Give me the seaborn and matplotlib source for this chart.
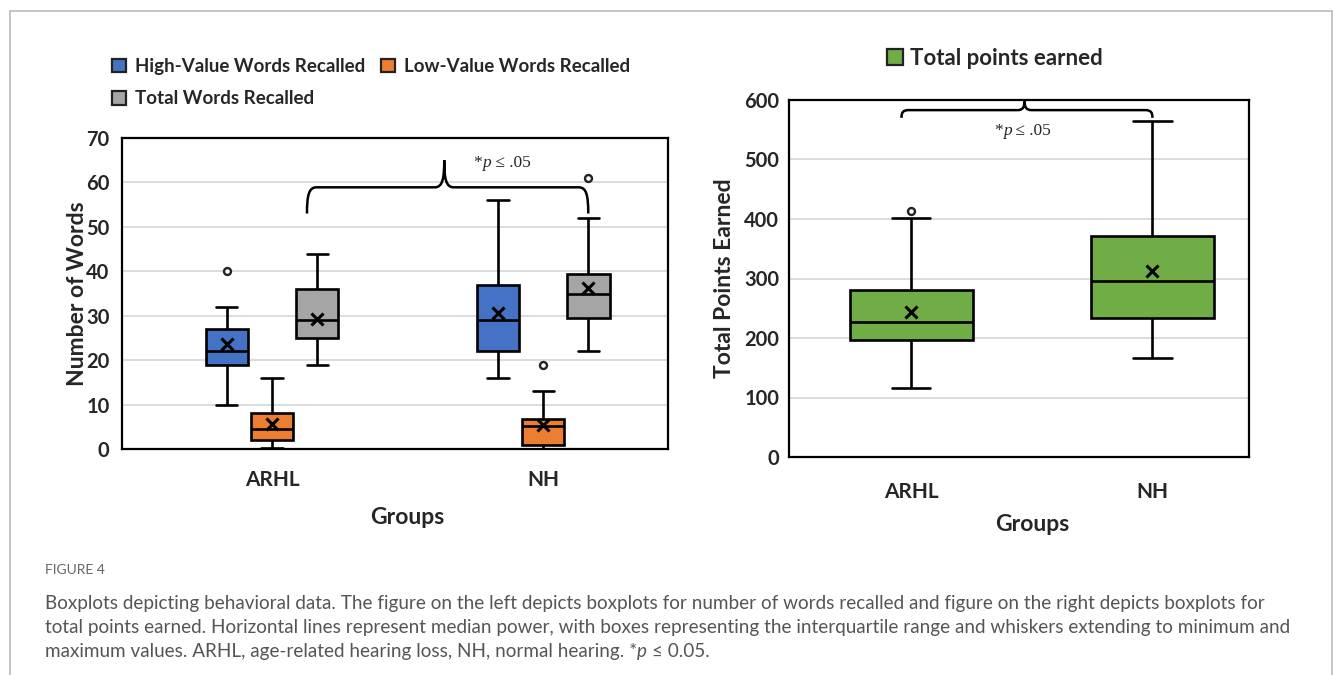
import numpy as np
import pandas as pd
import matplotlib
matplotlib.use("Agg")
import matplotlib.pyplot as plt
from matplotlib.patches import Patch, PathPatch
from matplotlib.path import Path
import seaborn as sns

# ---------------- data ----------------
groups = ["ARHL", "NH"]
measures = ["High-Value Words Recalled", "Low-Value Words Recalled", "Total Words Recalled"]

# five-number summaries [min, q1, median, q3, max] per group (ARHL, NH)
high_value_five = [[10, 19, 22, 27, 32], [16, 22, 29, 37, 56]]
low_value_five = [[0.3, 2, 4.5, 8, 16], [0, 0.8, 5.2, 6.8, 13]]
total_words_five = [[19, 25, 29, 36, 44], [22, 29.5, 35, 39.5, 52]]
high_value_mean = [23.7, 30.7]
low_value_mean = [5.6, 5.4]
total_words_mean = [29.2, 36.2]
high_value_outliers = [[40], []]
low_value_outliers = [[], [19]]
total_words_outliers = [[], [61]]

points_five = [[116, 196, 227, 280, 402], [167, 233, 295, 371, 564]]
points_mean = [243, 312]
points_outliers = [[413], []]

word_ticks = [0, 10, 20, 30, 40, 50, 60, 70]
point_ticks = [0, 100, 200, 300, 400, 500, 600]

colors = {"High-Value Words Recalled": "#4472C4",
          "Low-Value Words Recalled": "#ED7D31",
          "Total Words Recalled": "#A5A5A5"}
green = "#70AD47"

caption_title = "FIGURE 4"
caption_lines = [
    "Boxplots depicting behavioral data. The figure on the left depicts boxplots for number of words recalled and figure on the right depicts boxplots for",
    "total points earned. Horizontal lines represent median power, with boxes representing the interquartile range and whiskers extending to minimum and",
]
caption_last = ["maximum values. ARHL, age-related hearing loss, NH, normal hearing. *", "p", " \u2264 0.05."]

# ---------------- tables ----------------
series_five = [high_value_five, low_value_five, total_words_five]
series_mean = [high_value_mean, low_value_mean, total_words_mean]
series_out = [high_value_outliers, low_value_outliers, total_words_outliers]

rows = []
for gi, g in enumerate(groups):
    for m, five in zip(measures, series_five):
        for v in five[gi]:
            rows.append({"Group": g, "Measure": m, "Words": v})
words_df = pd.DataFrame(rows)

prow = []
for gi, g in enumerate(groups):
    for v in points_five[gi]:
        prow.append({"Group": g, "Points": v})
points_df = pd.DataFrame(prow)

# ---------------- style ----------------
sns.set_theme(style="white")
BOLD = ["Lato", "DejaVu Sans"]
plt.rcParams["font.family"] = BOLD

fig = plt.figure(figsize=(13.33, 6.75), dpi=100)
W, H = 1333, 675

def axes_px(l, r, t, b):
    return fig.add_axes([l / W, 1 - b / H, (r - l) / W, (b - t) / H])

ax1 = axes_px(122, 668, 138, 449)
ax2 = axes_px(789, 1249, 100, 457)

LW = 1.9
box_width = 0.5
sns.boxplot(data=words_df, x="Group", y="Words", hue="Measure", order=groups,
            hue_order=measures, palette=colors, saturation=1, width=box_width,
            gap=0.06, whis=(0, 100), showfliers=False, linecolor="black",
            linewidth=LW, legend=False, ax=ax1)

sns.boxplot(data=points_df, x="Group", y="Points", order=groups, color=green,
            saturation=1, width=0.51, whis=(0, 100), showfliers=False,
            linecolor="black", linewidth=LW, capwidths=0.16, ax=ax2)

# means and outliers
n_h = len(measures)
slot = box_width / n_h
for hi in range(n_h):
    for gi in range(len(groups)):
        xpos = gi + (hi - (n_h - 1) / 2) * slot
        ax1.plot([xpos], [series_mean[hi][gi]], marker="x", color="black",
                 ms=8.5, mew=2.2, zorder=5)
        for o in series_out[hi][gi]:
            ax1.plot([xpos], [o], marker="o", ms=5, mfc="white", mec="#222222",
                     mew=1.7, zorder=5)
for gi in range(len(groups)):
    ax2.plot([gi], [points_mean[gi]], marker="x", color="black", ms=9, mew=2.2, zorder=5)
    for o in points_outliers[gi]:
        ax2.plot([gi], [o], marker="o", ms=5, mfc="white", mec="#222222", mew=1.7, zorder=5)

# axes styling
for ax, ticks, lim in [(ax1, word_ticks, (-0.553, 1.46)), (ax2, point_ticks, (-0.506, 1.40))]:
    ax.set_ylim(ticks[0], ticks[-1])
    ax.set_yticks(ticks)
    ax.set_xlim(*lim)
    ax.yaxis.grid(True, color="#d9d9d9", lw=1.3)
    ax.set_axisbelow(True)
    for s in ax.spines.values():
        s.set_visible(True)
        s.set_color("black")
        s.set_linewidth(1.6)
    ax.tick_params(axis="both", length=0, labelsize=14.5)
    for lab in ax.get_xticklabels() + ax.get_yticklabels():
        lab.set_fontweight("bold")
    ax.set_xticks(range(len(groups)))
    ax.set_xticklabels(groups, fontweight="bold", fontsize=15)

ax1.tick_params(axis="y", pad=9)
ax1.tick_params(axis="x", pad=15)
ax2.tick_params(axis="y", pad=7)
ax2.tick_params(axis="x", pad=18)

ax1.set_ylabel("Number of Words", fontsize=16.5, fontweight="bold")
ax1.yaxis.set_label_coords(-0.081, 0.5)
ax1.set_xlabel("Groups", fontsize=16.5, fontweight="bold")
ax1.xaxis.set_label_coords(0.522, -0.219)
ax1.xaxis.label.set_va("center")
ax1.yaxis.label.set_va("center")

ax2.set_ylabel("Total Points Earned", fontsize=16.5, fontweight="bold")
ax2.yaxis.set_label_coords(-0.141, 0.5)
ax2.set_xlabel("Groups", fontsize=16.5, fontweight="bold")
ax2.xaxis.set_label_coords(0.528, -0.188)
ax2.xaxis.label.set_va("center")
ax2.yaxis.label.set_va("center")

# curly brackets
def brace(ax, x0, x1, xm, yh, yend, ytip, dx, lw=1.8):
    dyE = (yh - yend)
    dyT = (ytip - yh)
    verts = [
        (x0, yend), (x0, yend + dyE * 0.7), (x0 + dx * 0.2, yh), (x0 + dx, yh),
        (xm - dx, yh),
        (xm - dx * 0.2, yh), (xm, yh + dyT * 0.3), (xm, ytip),
        (xm, yh + dyT * 0.3), (xm + dx * 0.2, yh), (xm + dx, yh),
        (x1 - dx, yh),
        (x1 - dx * 0.2, yh), (x1, yh - dyE * 0.3), (x1, yend),
    ]
    codes = [Path.MOVETO, Path.CURVE4, Path.CURVE4, Path.CURVE4,
             Path.LINETO,
             Path.CURVE4, Path.CURVE4, Path.CURVE4,
             Path.CURVE4, Path.CURVE4, Path.CURVE4,
             Path.LINETO,
             Path.CURVE4, Path.CURVE4, Path.CURVE4]
    ax.add_patch(PathPatch(Path(verts, codes), fill=False, lw=lw, color="black",
                           clip_on=False, zorder=6, capstyle="butt"))

brace(ax1, 0.129, 1.166, 0.635, 58.9, 53, 65, 0.035)
brace(ax2, -0.04, 1.0, 0.47, 583, 570, 600, 0.03)

SERIF = ["Liberation Serif", "DejaVu Serif"]

def chain_text(ax, x, y, pieces, transform, **kw):
    prev = None
    for txt, style in pieces:
        if prev is None:
            prev = ax.annotate(txt, xy=(x, y), xycoords=transform,
                               ha="left", va="bottom", style=style,
                               annotation_clip=False, **kw)
        else:
            prev = ax.annotate(txt, xy=(1, 0), xycoords=prev,
                               ha="left", va="bottom", style=style,
                               annotation_clip=False, **kw)
    return prev

chain_text(ax1, 0.743, 62.6, [("*", "normal"), ("p", "italic"), (" \u2264 .05", "normal")],
           ax1.transData, family=SERIF, fontsize=12.5)
chain_text(ax2, 0.343, 535, [("*", "normal"), ("p", "italic"), (" \u2264 .05", "normal")],
           ax2.transData, family=SERIF, fontsize=12.5)

# legends
h_words = [Patch(facecolor=colors[m], edgecolor="#222222", linewidth=1.6, label=m) for m in measures]
order = [0, 2, 1]
fig.legend(handles=[h_words[i] for i in order], loc="upper left",
           bbox_to_anchor=(112 / W, 1 - 58 / H), ncol=2, frameon=False,
           prop={"weight": "bold", "size": 13.5, "family": BOLD},
           handlelength=0.75, handleheight=0.75, handletextpad=0.5,
           columnspacing=0.8, labelspacing=0.82, borderaxespad=0, borderpad=0)
fig.legend(handles=[Patch(facecolor=green, edgecolor="#222222", linewidth=1.6,
                          label="Total points earned")],
           loc="upper left", bbox_to_anchor=(887 / W, 1 - 48 / H), frameon=False,
           prop={"weight": "bold", "size": 16, "family": BOLD},
           handlelength=0.7, handleheight=0.7, handletextpad=0.35,
           borderaxespad=0, borderpad=0)

# caption
CAP = ["Lato", "DejaVu Sans"]
fig.text(45 / W, 1 - 570 / H, caption_title, fontsize=10, color="#666666",
         family=CAP, va="center", ha="left")
for i, line in enumerate(caption_lines):
    fig.text(45 / W, 1 - (603 + 24 * i) / H, line, fontsize=13.6, color="#555555",
             family=CAP, va="center", ha="left")
chain_text(ax1, 45 / W, 1 - (651 + 9) / H,
           [(caption_last[0], "normal"), (caption_last[1], "italic"), (caption_last[2], "normal")],
           fig.transFigure, fontsize=13.6, color="#555555", family=CAP)

# frame
fig.add_artist(plt.Line2D([10 / W, 10 / W], [0, 1 - 11 / H], color="#bbbbbb", lw=1.2,
                          transform=fig.transFigure))
fig.add_artist(plt.Line2D([10 / W, 1331.5 / W], [1 - 11 / H, 1 - 11 / H], color="#bbbbbb",
                          lw=1.2, transform=fig.transFigure))
fig.add_artist(plt.Line2D([1331.5 / W, 1331.5 / W], [0, 1 - 11 / H], color="#bbbbbb",
                          lw=1.2, transform=fig.transFigure))

fig.savefig("out.png", dpi=100)
